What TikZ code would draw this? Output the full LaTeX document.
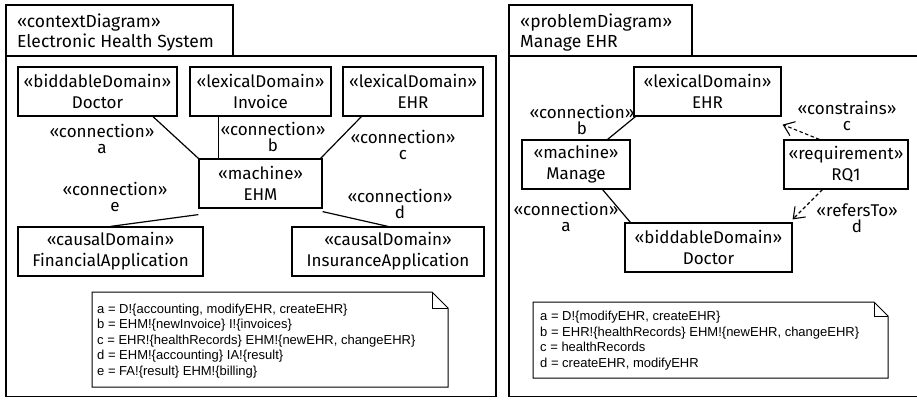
\documentclass[tikz,border=0pt]{standalone}
\usepackage{fontspec}
\setmainfont{Fira Sans}
\newfontfamily\notefont{Liberation Sans}
\usetikzlibrary{arrows.meta,calc}
\begin{document}
\begin{tikzpicture}[x=1pt,y=-1pt,
  box/.style={draw, line width=1.2pt, inner sep=0pt, align=center, font=\fontsize{17}{21}\selectfont},
  lbl/.style={inner sep=0pt, align=center, font=\fontsize{17}{16.5}\selectfont},
  ttl/.style={inner sep=0pt, align=left, anchor=west, font=\fontsize{17.5}{20}\selectfont},
  conn/.style={line width=1.2pt},
  dep/.style={line width=1.1pt, dash pattern=on 3.5pt off 2.5pt, -{Straight Barb[length=10pt,width=15pt,line width=1.1pt]}},
  framebox/.style={line width=1.2pt},
  notebox/.style={line width=1pt},
  notetext/.style={inner sep=0pt, align=left, anchor=west, font=\notefont\fontsize{13}{15.5}\selectfont}
]
\useasboundingbox (0,0) rectangle (917,399);
\fill[white] (0,0) rectangle (917,399);

% ---------- left frame ----------
\draw[framebox] (6,5) rectangle (233,56);
\draw[framebox] (6,56) rectangle (496,396.5);
\node[ttl] (t1) at (17,33) {«contextDiagram»\\Electronic Health System};

\node[box, minimum width=159pt, minimum height=49pt] (doc) at (97.5,91.5) {«biddableDomain»\\Doctor};
\node[box, minimum width=141pt, minimum height=49pt] (inv) at (260.5,91.5) {«lexicalDomain»\\Invoice};
\node[box, minimum width=140pt, minimum height=49pt] (ehr) at (413,91.5) {«lexicalDomain»\\EHR};
\node[box, minimum width=123pt, minimum height=49pt] (ehm) at (260.5,183.5) {«machine»\\EHM};
\node[box, minimum width=185pt, minimum height=49pt] (fin) at (110.5,251.5) {«causalDomain»\\FinancialApplication};
\node[box, minimum width=192pt, minimum height=49pt] (ins) at (388,251.5) {«causalDomain»\\InsuranceApplication};

\draw[conn] ([xshift=55.5pt]doc.south) -- (ehm.north west);
\draw[conn] ([xshift=20pt]ehm.north west) -- ([xshift=20pt]ehm.north west |- inv.south);
\draw[conn] ([xshift=19pt]ehr.south west) -- ([xshift=-2pt]ehm.north east);
\draw[conn] ([yshift=-6pt]ehm.south west) -- (fin.north);
\draw[conn] ([yshift=-3pt]ehm.south east) -- (ins.north);

\node[lbl] (la) at (102,139) {«connection»\\a};
\node[lbl] (lb) at (273,137) {«connection»\\b};
\node[lbl] (lc) at (403,145) {«connection»\\c};
\node[lbl] (le) at (115,197) {«connection»\\e};
\node[lbl] (ld) at (400,204) {«connection»\\d};

\draw[notebox] (92,292) -- (432,292) -- (448,308) -- (448,387) -- (92,387) -- cycle;
\draw[notebox] (432,292) -- (432,308) -- (448,308);
\node[notetext] (n1) at (97,341) {a = D!\{accounting, modifyEHR, createEHR\}\\
b = EHM!\{newInvoice\} I!\{invoices\}\\
c = EHR!\{healthRecords\} EHM!\{newEHR, changeEHR\}\\
d = EHM!\{accounting\} IA!\{result\}\\
e = FA!\{result\} EHM!\{billing\}};

% ---------- right frame ----------
\draw[framebox] (509,5) rectangle (692,56);
\draw[framebox] (920,56) -- (509,56) -- (509,396.5) -- (920,396.5);
\node[ttl] (t2) at (520,33) {«problemDiagram»\\Manage EHR};

\node[box, minimum width=147pt, minimum height=49pt] (ehr2) at (707.5,91.5) {«lexicalDomain»\\EHR};
\node[box, minimum width=108pt, minimum height=49pt] (man) at (576,164.5) {«machine»\\Manage};
\node[box, minimum width=124pt, minimum height=49pt] (rq) at (846,164.5) {«requirement»\\RQ1};
\node[box, minimum width=167pt, minimum height=49pt] (doc2) at (708.5,247.5) {«biddableDomain»\\Doctor};

\draw[conn] ([xshift=-23pt]man.north east) -- ([xshift=2pt]ehr2.south west);
\draw[conn] ([xshift=-28pt]man.south east) -- ([xshift=6pt]doc2.north west);
\draw[dep] ([xshift=36pt]rq.north west) -- ([xshift=1pt,yshift=-8pt]ehr2.south east);
\draw[dep] ([xshift=39pt]rq.south west) -- ([yshift=3pt]doc2.north east);

\node[lbl] (rb) at (582,120) {«connection»\\b};
\node[lbl] (ra) at (566,217) {«connection»\\a};
\node[lbl] (rc) at (847,116) {«constrains»\\c};
\node[lbl] (rd) at (857,218) {«refersTo»\\d};

\draw[notebox] (533,302) -- (874,302) -- (888,316) -- (888,378) -- (533,378) -- cycle;
\draw[notebox] (874,302) -- (874,316) -- (888,316);
\node[notetext] (n2) at (540,340.5) {a = D!\{modifyEHR, createEHR\}\\
b = EHR!\{healthRecords\} EHM!\{newEHR, changeEHR\}\\
c = healthRecords\\
d = createEHR, modifyEHR};
\end{tikzpicture}
\end{document}
